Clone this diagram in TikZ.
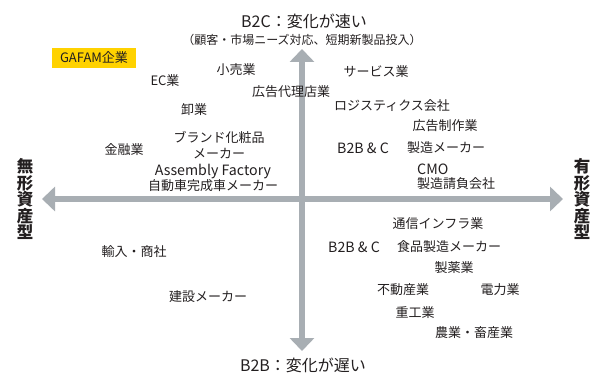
\documentclass[tikz,border=0pt]{standalone}
\usepackage{fontspec}
\setmainfont{Noto Sans CJK JP}
\usetikzlibrary{arrows.meta}
\definecolor{axisgray}{HTML}{A8AEB3}
\definecolor{gafam}{HTML}{FFD200}
\definecolor{ink}{HTML}{231F20}
\begin{document}
\begin{tikzpicture}[x=1pt,y=-1pt,
  axis/.style={draw=axisgray, line width=6pt, {Triangle[width=24pt,length=13pt]}-{Triangle[width=24pt,length=13pt]}},
  lbl/.style={inner sep=0pt, text=ink, font=\fontsize{13}{15}\selectfont},
  latin/.style={lbl, font=\fontsize{14.2}{15}\selectfont},
  ttl/.style={inner sep=0pt, text=ink, font=\fontsize{16}{18}\selectfont},
  subttl/.style={inner sep=0pt, text=ink, font=\fontsize{12}{14}\selectfont},
  vert/.style={inner sep=0pt, text=ink, align=center, font=\fontsize{16.5}{16.5}\selectfont\bfseries}]
\useasboundingbox[fill=white] (0,0) rectangle (595,377);

% axes
\coordinate (top) at (302,49);
\coordinate (bot) at (302,351);
\coordinate (lft) at (42,199);
\coordinate (rgt) at (563,199);
\draw[axis] (lft) -- (rgt);
\draw[axis] (bot) -- (top);

% titles
\node[ttl] (b2c) at (304,21) {B2C：変化が速い};
\node[subttl] (b2csub) at (302,40) {（顧客・市場ニーズ対応、短期新製品投入）};
\node[ttl] (b2b) at (303,365) {B2B：変化が遅い};
\node[vert] (mukei) at (25,199) {無\\形\\資\\産\\型};
\node[vert] (yukei) at (582,199) {有\\形\\資\\産\\型};

% upper left
\node[lbl, fill=gafam, minimum width=84pt, minimum height=20pt] (gafam) at (94,58) {GAFAM企業};
\node[lbl] (ec) at (165,81) {EC業};
\node[lbl] (kouri) at (236,70) {小売業};
\node[lbl] (koukoku) at (291,92) {広告代理店業};
\node[lbl] (oroshi) at (194,110) {卸業};
\node[lbl, align=center, font=\fontsize{13}{16}\selectfont] (brand) at (219,145) {ブランド化粧品\\メーカー};
\node[lbl] (kinyu) at (124,150) {金融業};
\node[latin] (assembly) at (213,172) {Assembly Factory};
\node[lbl] (jidousha) at (213,186) {自動車完成車メーカー};

% upper right
\node[lbl] (service) at (376,72) {サービス業};
\node[lbl] (logi) at (392,106) {ロジスティクス会社};
\node[lbl] (seisaku) at (445,126) {広告制作業};
\node[latin, anchor=west] (b2bc1) at (337,148) {B2B \& C};
\node[lbl, anchor=west] (seizo) at (407,148) {製造メーカー};
\node[latin, anchor=west] (cmo) at (417,169) {CMO};
\node[lbl, anchor=west] (ukeoi) at (417,184) {製造請負会社};

% lower right
\node[lbl] (tsushin) at (438,224) {通信インフラ業};
\node[latin, anchor=west] (b2bc2) at (328,247) {B2B \& C};
\node[lbl, anchor=west] (shokuhin) at (397,247) {食品製造メーカー};
\node[lbl] (seiyaku) at (454,268) {製薬業};
\node[lbl] (fudousan) at (403,290) {不動産業};
\node[lbl] (denryoku) at (500,290) {電力業};
\node[lbl] (juko) at (415,313) {重工業};
\node[lbl] (nogyo) at (474,333) {農業・畜産業};

% lower left
\node[lbl] (yunyu) at (134,252) {輸入・商社};
\node[lbl] (kensetsu) at (208,297) {建設メーカー};
\end{tikzpicture}
\end{document}
